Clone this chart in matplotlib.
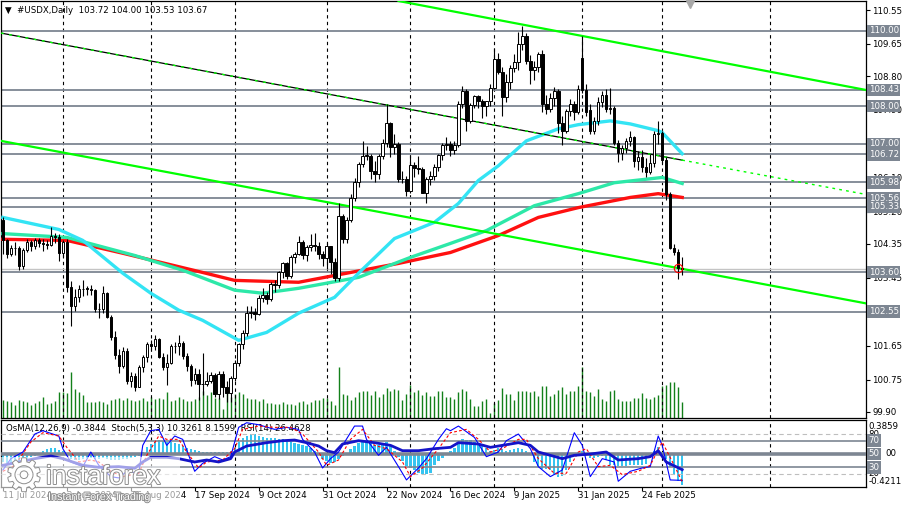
import matplotlib
matplotlib.use("Agg")
import matplotlib.pyplot as plt
import matplotlib.transforms as mtransforms
import matplotlib.patheffects as pe
from matplotlib.patches import Rectangle
import numpy as np

# ── Daily bars, 11 Jul 2024 → 10 Mar 2025 (bar index 0..170) ────────────────
opens = [
    104.98, 104.44, 104.09, 104.24, 104.23, 103.76, 104.19, 104.40, 104.29, 104.45,
    104.38, 104.35, 104.31, 104.57, 104.54, 104.10, 104.41, 103.21, 102.70, 102.93,
    103.14, 103.16, 103.15, 103.13, 102.61, 102.62, 103.04, 102.41, 101.88, 101.41,
    101.10, 101.50, 100.72, 100.85, 100.56, 101.09, 101.34, 101.70, 101.65, 101.82,
    101.36, 101.08, 101.18, 101.63, 101.64, 101.71, 101.37, 101.11, 100.74, 100.89,
    100.62, 100.64, 100.72, 100.87, 100.37, 100.90, 100.55, 100.38, 100.78, 101.20,
    101.68, 101.99, 102.52, 102.54, 102.49, 102.92, 102.99, 102.89, 103.29, 103.25,
    103.59, 103.83, 103.49, 104.01, 104.09, 104.41, 104.06, 104.26, 104.32, 104.30,
    104.07, 103.97, 104.28, 103.88, 103.43, 105.09, 104.49, 104.99, 105.57, 105.99,
    106.48, 106.68, 106.69, 106.27, 106.21, 106.68, 107.02, 107.55, 106.92, 107.01,
    106.06, 106.08, 105.74, 106.45, 106.36, 106.34, 105.71, 106.06, 106.16, 106.40,
    106.70, 106.97, 107.00, 106.84, 106.96, 108.07, 108.40, 107.62, 108.04, 108.26,
    108.13, 108.00, 108.13, 108.49, 109.25, 108.92, 108.25, 108.65, 109.00, 109.16,
    109.64, 109.86, 109.20, 108.95, 109.05, 109.38, 108.05, 107.92, 108.23, 108.40,
    107.55, 107.35, 107.86, 108.05, 107.85, 109.29, 108.42, 107.90, 107.35, 107.60,
    108.10, 108.30, 107.92, 107.95, 107.02, 106.77, 106.88, 107.08, 107.17, 106.55,
    106.64, 106.40, 106.25, 106.50, 107.25, 107.30, 106.58, 105.68, 104.25, 104.12,
    103.72,
]
highs = [
    105.05, 104.47, 104.33, 104.40, 104.30, 104.23, 104.47, 104.44, 104.51, 104.51,
    104.48, 104.45, 104.80, 104.63, 104.60, 104.46, 104.47, 103.37, 103.14, 103.26,
    103.39, 103.24, 103.26, 103.15, 102.77, 103.22, 103.06, 102.47, 102.04, 101.55,
    101.62, 101.58, 100.96, 100.93, 101.14, 101.40, 101.74, 101.80, 101.92, 101.86,
    101.45, 101.43, 101.69, 101.74, 101.92, 101.78, 101.45, 101.17, 101.05, 101.04,
    101.45, 100.95, 100.95, 100.92, 100.97, 100.98, 100.70, 100.85, 101.27, 101.72,
    102.06, 102.69, 102.70, 102.65, 102.98, 103.18, 103.08, 103.33, 103.40, 103.62,
    103.87, 103.87, 104.04, 104.13, 104.57, 104.46, 104.33, 104.62, 104.63, 104.40,
    104.17, 104.37, 104.30, 103.98, 105.44, 105.13, 105.06, 105.67, 106.10, 106.53,
    107.07, 106.94, 106.72, 106.54, 106.72, 107.13, 108.07, 107.59, 107.26, 107.06,
    106.29, 106.14, 106.70, 106.53, 106.68, 106.38, 106.12, 106.28, 106.47, 106.73,
    107.03, 107.18, 107.07, 107.08, 108.14, 108.54, 108.45, 108.09, 108.29, 108.30,
    108.19, 108.14, 108.58, 109.54, 109.40, 109.05, 108.85, 109.10, 109.38, 109.96,
    110.13, 109.95, 109.35, 109.20, 109.45, 109.50, 108.30, 108.35, 108.52, 108.45,
    107.75, 107.93, 108.20, 108.15, 108.55, 109.86, 108.60, 108.05, 107.72, 108.25,
    108.41, 108.45, 108.47, 108.00, 107.10, 106.98, 107.15, 107.35, 107.22, 106.80,
    106.85, 106.62, 106.72, 107.35, 107.61, 107.35, 106.65, 105.72, 104.35, 104.20,
    104.00,
]
lows = [
    104.07, 103.97, 104.02, 104.06, 103.65, 103.69, 104.12, 104.17, 104.22, 104.26,
    104.15, 104.20, 104.29, 104.38, 103.89, 103.99, 103.08, 102.16, 102.58, 102.81,
    102.97, 102.99, 102.98, 102.55, 102.38, 102.51, 102.38, 101.81, 101.30, 100.92,
    101.05, 100.62, 100.55, 100.45, 100.54, 100.94, 101.21, 101.54, 101.53, 101.31,
    100.99, 100.60, 101.16, 101.45, 101.40, 101.30, 100.98, 100.59, 100.63, 100.21,
    100.35, 100.58, 100.65, 100.30, 100.24, 100.30, 100.16, 100.16, 100.70, 101.12,
    101.55, 101.90, 102.38, 102.34, 102.45, 102.80, 102.75, 102.84, 103.07, 103.17,
    103.45, 103.41, 103.44, 103.84, 104.06, 103.96, 103.89, 104.15, 104.17, 103.95,
    103.77, 103.68, 103.55, 103.37, 103.37, 104.37, 104.38, 104.94, 105.48, 105.85,
    106.38, 106.58, 106.07, 105.98, 106.08, 106.59, 106.92, 106.66, 106.74, 105.98,
    105.96, 105.61, 105.70, 106.13, 106.19, 105.70, 105.42, 105.92, 106.04, 106.28,
    106.56, 106.84, 106.67, 106.72, 106.93, 107.95, 107.35, 107.55, 107.96, 107.96,
    107.69, 107.73, 108.00, 108.45, 108.85, 107.75, 108.10, 108.45, 108.90, 108.95,
    109.50, 109.12, 108.60, 108.70, 108.90, 107.85, 107.80, 107.85, 108.00, 107.30,
    106.97, 107.30, 107.75, 107.63, 107.78, 108.35, 107.75, 107.26, 107.25, 107.50,
    107.98, 107.85, 107.80, 106.98, 106.51, 106.56, 106.75, 106.95, 106.38, 106.30,
    106.25, 106.12, 106.20, 106.40, 107.00, 106.50, 105.50, 104.20, 104.05, 103.41,
    103.53,
]
closes = [
    104.44, 104.09, 104.24, 104.23, 103.76, 104.19, 104.40, 104.29, 104.45, 104.38,
    104.35, 104.31, 104.57, 104.54, 104.10, 104.41, 103.21, 102.70, 102.93, 103.14,
    103.16, 103.15, 103.13, 102.61, 102.62, 103.04, 102.41, 101.88, 101.41, 101.10,
    101.50, 100.72, 100.85, 100.56, 101.09, 101.34, 101.70, 101.65, 101.82, 101.36,
    101.08, 101.18, 101.63, 101.64, 101.71, 101.37, 101.11, 100.74, 100.89, 100.62,
    100.64, 100.72, 100.87, 100.37, 100.90, 100.55, 100.38, 100.78, 101.20, 101.68,
    101.99, 102.52, 102.54, 102.49, 102.92, 102.99, 102.89, 103.29, 103.25, 103.59,
    103.83, 103.49, 104.01, 104.09, 104.41, 104.06, 104.26, 104.32, 104.30, 104.07,
    103.97, 104.28, 103.88, 103.43, 105.09, 104.49, 104.99, 105.57, 105.99, 106.48,
    106.68, 106.69, 106.27, 106.21, 106.68, 107.02, 107.55, 106.92, 107.01, 106.06,
    106.08, 105.74, 106.45, 106.36, 106.34, 105.71, 106.06, 106.16, 106.40, 106.70,
    106.97, 107.00, 106.84, 106.96, 108.07, 108.40, 107.62, 108.04, 108.26, 108.13,
    108.00, 108.13, 108.49, 109.25, 108.92, 108.25, 108.65, 109.00, 109.16, 109.64,
    109.86, 109.20, 108.95, 109.05, 109.38, 108.05, 107.92, 108.23, 108.40, 107.55,
    107.35, 107.86, 108.05, 107.85, 108.45, 108.42, 107.85, 107.35, 107.60, 108.10,
    108.30, 107.92, 107.95, 107.02, 106.77, 106.88, 107.08, 107.17, 106.55, 106.64,
    106.40, 106.25, 106.50, 107.25, 107.30, 106.58, 105.68, 104.25, 104.12, 103.72,
    103.67,
]
volumes = [
    18, 17, 16, 13, 18, 17, 16, 13, 15, 17, 21, 14, 15, 17, 26, 26, 25, 46, 29, 26,
    23, 16, 16, 16, 17, 16, 14, 18, 19, 20, 18, 20, 18, 17, 18, 20, 17, 21, 19, 20,
    19, 26, 17, 18, 21, 19, 17, 17, 19, 21, 27, 23, 26, 20, 20, 9, 27, 21, 24, 26,
    24, 20, 19, 19, 17, 19, 15, 15, 14, 14, 16, 14, 14, 13, 16,
    17, 14, 16, 18, 18, 20, 20, 17, 13, 51, 24, 23, 18, 21, 26, 27, 27, 23, 27, 21,
    24, 30, 27, 29, 28, 18, 24, 33, 26, 28, 23, 26, 22, 22, 27, 27, 21, 21, 19, 26,
    29, 27, 19, 12, 12, 17, 19, 5, 15, 18, 30, 24, 24, 18, 27, 27, 27, 26, 27, 22,
    32, 32, 22, 24, 28, 31, 24, 27, 27, 32, 51, 27, 26, 22, 29,
    19, 17, 27, 28, 19, 17, 17, 17, 20, 20, 25, 20, 19, 21, 23, 32, 33, 36, 36, 31, 16,
]

# moving averages, read at sample bars
ma_fast_i = [0, 14, 20, 30, 37, 44, 50, 59, 66, 74, 83, 89, 98, 108, 114, 119, 124,
             131, 139, 144, 152, 157, 164, 165, 170]
ma_fast_v = [105.05, 104.73, 104.44, 103.57, 103.04, 102.59, 102.32, 101.79, 102.00,
             102.51, 102.93, 103.57, 104.49, 104.92, 105.42, 106.03, 106.42, 107.08,
             107.40, 107.51, 107.61, 107.53, 107.35, 107.30, 106.74]
ma_mid_i = [0, 16, 33, 45, 58, 65, 74, 89, 102, 112, 121, 133, 144, 153, 165, 170]
ma_mid_v = [104.62, 104.52, 104.04, 103.65, 103.12, 103.04, 103.17, 103.46, 103.99,
            104.36, 104.70, 105.36, 105.68, 105.97, 106.11, 105.95]
ma_slow_i = [0, 16, 30, 50, 58, 74, 99, 112, 124, 134, 144, 157, 164, 170]
ma_slow_v = [104.47, 104.44, 104.10, 103.59, 103.38, 103.33, 103.83, 104.12, 104.57,
             105.05, 105.31, 105.58, 105.68, 105.58]

# drawn objects: trend lines (bar, price) pairs and horizontal levels
chan_top = [(101.5, 110.74), (216, 108.43)]
chan_mid = [(-0.5, 109.94), (216, 105.66)]
chan_low = [(-0.5, 107.08), (216, 102.77)]
mid_solid_end = 170
levels = [110.00, 108.43, 108.00, 107.00, 106.72, 105.98, 105.56, 105.33, 103.60, 102.55]
price_ticks = [99.90, 100.75, 101.65, 102.55, 103.45, 104.35, 105.20, 106.10, 107.00,
               107.90, 108.80, 109.65, 110.55]

# indicator window
osma = [
    -0.10, -0.11, -0.11, -0.10, -0.10, -0.08, -0.06, -0.04, -0.02, 0.01,
    0.04, 0.06, 0.07, 0.07, 0.05, 0.03, -0.02, -0.06, -0.07, -0.07,
    -0.06, -0.05, -0.05, -0.06, -0.06, -0.05, -0.06, -0.07, -0.07, -0.07,
    -0.06, -0.06, -0.05, -0.04, -0.02, 0.02, 0.08, 0.12, 0.15, 0.17,
    0.16, 0.14, 0.14, 0.13, 0.12, 0.10, 0.07, 0.06, 0.05, 0.03,
    0.02, 0.02, 0.02, 0.02, 0.02, 0.02, 0.02, 0.03, 0.07, 0.14,
    0.20, 0.22, 0.24, 0.24, 0.22, 0.21, 0.20, 0.20, 0.19, 0.18,
    0.18, 0.16, 0.15, 0.13, 0.12, 0.11, 0.10, 0.07, 0.04, 0.00,
    -0.06, -0.09, -0.11, -0.10, -0.06, -0.03, 0.01, 0.06, 0.10, 0.13,
    0.15, 0.15, 0.13, 0.11, 0.11, 0.12, 0.14, 0.10, 0.04, -0.04,
    -0.09, -0.15, -0.17, -0.20, -0.23, -0.25, -0.25, -0.23, -0.14, -0.09,
    -0.05, -0.01, 0.03, 0.07, 0.14, 0.18, 0.17, 0.17, 0.15, 0.13,
    0.11, 0.07, 0.04, 0.05, 0.07, 0.06, 0.04, 0.05, 0.06, 0.07,
    0.06, 0.04, 0.00, -0.10, -0.15, -0.18, -0.18, -0.20, -0.25, -0.28,
    -0.27, -0.20, -0.10, -0.03, 0.02, 0.03, -0.02, -0.05, -0.05, -0.04,
    -0.03, -0.08, -0.13, -0.14, -0.15, -0.15, -0.15, -0.14, -0.14, -0.14,
    -0.13, -0.12, -0.05, 0.04, 0.08, 0.02, -0.06, -0.16, -0.26, -0.33,
    -0.38,
]
stoch_i = [0, 2, 5, 8, 10, 14, 15, 17, 20, 22, 24, 27, 29, 31, 34, 35, 37, 39, 41, 43,
           45, 48, 50, 53, 55, 57, 59, 61, 64, 68, 71, 74, 75, 78, 80, 82, 84, 88, 90,
           91, 94, 96, 99, 101, 104, 106, 109, 111, 112, 114, 118, 121, 124, 126, 129,
           132, 134, 137, 140, 143, 145, 147, 150, 153, 154, 157, 160, 162, 164, 165,
           167, 170]
stoch_v = [26, 43, 53, 80, 85, 77, 58, 38, 31, 53, 33, 16, 14, 24, 21, 63, 85, 87, 63, 77,
           72, 24, 36, 46, 41, 46, 90, 97, 94, 87, 90, 87, 72, 53, 29, 43, 53, 92, 92,
           72, 48, 60, 31, 11, 29, 43, 72, 88, 85, 92, 75, 46, 53, 70, 80,
           58, 31, 16, 26, 82, 63, 16, 43, 38, 9, 24, 29, 31, 77, 63,
           11, 10.33]
signal_i = [0, 3, 7, 10, 14, 16, 19, 22, 24, 27, 30, 34, 36, 39, 41, 44, 46, 49, 51, 55,
            58, 60, 64, 68, 72, 75, 79, 81, 84, 87, 90, 93, 96, 100, 102, 105, 109, 112,
            116, 119, 122, 125, 129, 131, 134, 138, 141, 144, 146, 149, 152, 155, 159,
            162, 165, 168, 170]
signal_v = [24, 33, 68, 82, 77, 60, 38, 41, 38, 24, 16, 21, 48, 77, 72, 72, 53, 29, 38, 41,
            58, 87, 92, 90, 90, 80, 53, 33, 41, 72, 87, 63, 58, 38, 16, 29, 58, 82,
            87, 72, 53, 58, 72, 72, 43, 21, 21, 53, 58, 31, 33, 19, 24,
            33, 68, 33, 8.16]
rsi_i = [0, 4, 8, 12, 15, 20, 24, 29, 33, 35, 37, 41, 44, 48, 51, 54, 57, 58, 61, 66,
         70, 73, 76, 79, 81, 83, 85, 89, 93, 97, 100, 104, 108, 112, 114, 119, 122,
         125, 129, 132, 134, 137, 140, 143, 147, 151, 154, 159, 162, 164, 166, 170]
rsi_v = [33, 38, 43, 47, 43, 33, 30, 31, 28.5, 38, 45, 45, 43, 38, 41, 38, 43, 53, 62, 67,
         70, 71, 67, 62, 55, 52, 65, 70, 67, 63, 55, 55, 58, 60, 67, 65, 60,
         63, 67, 63, 53, 48, 43, 48, 50, 53, 41, 43, 46, 55, 38, 26.46]

# month separators and date labels
separators = [15, 37, 58, 81, 102, 123, 145, 165, 192]
date_idx = [0, 16, 32, 48, 64, 80, 96, 112, 128, 144, 160]
date_txt = ["11 Jul 2024", "2 Aug 2024", "26 Aug 2024", "17 Sep 2024", "9 Oct 2024",
            "31 Oct 2024", "22 Nov 2024", "16 Dec 2024", "9 Jan 2025", "31 Jan 2025",
            "24 Feb 2025"]

# ── Theme ────────────────────────────────────────────────────────────────────
LIME, CYAN, TEAL, RED = "#00FF00", "#33E4F4", "#2DE8A8", "#FF1010"
LEVEL = "#7D8692"
VOLC = "#13801A"
HIST = "#35C4F0"
FS = 6.2
plt.rcParams.update({"font.family": "DejaVu Sans", "font.size": FS})

W, H = 903, 507
fig = plt.figure(figsize=(W / 100, H / 100), dpi=100, facecolor="white")
main_rect = [0.001, 89 / H, 866 / W - 0.001, 417 / H]
ind_rect = [0.001, 20 / H, 866 / W - 0.001, 67 / H]

idx = np.arange(len(closes))
o, hi, lo, c = (np.array(a) for a in (opens, highs, lows, closes))
XL = (-0.5, 216)

# ── Volume layer (behind prices) ─────────────────────────────────────────────
axv = fig.add_axes(main_rect, zorder=0)
axv.vlines(idx, 0, volumes, color=VOLC, lw=1.0)
axv.set_xlim(*XL); axv.set_ylim(0, 417)
axv.axis("off")

# ── Price window ─────────────────────────────────────────────────────────────
ax = fig.add_axes(main_rect, zorder=1)
ax.patch.set_alpha(0)
ax.set_xlim(*XL)
ax.set_ylim(99.73, 110.79)

for s in separators:
    ax.axvline(s, color="black", lw=0.8, ls=(0, (3, 3)), zorder=1)
for lv in levels:
    ax.axhline(lv, color=LEVEL, lw=1.3, zorder=2)
ax.axhline(closes[-1], color="#C4C4C4", lw=1.0, zorder=2)

ax.plot(ma_slow_i, ma_slow_v, color=RED, lw=2.4, zorder=3)
ax.plot(ma_mid_i, ma_mid_v, color=TEAL, lw=2.4, zorder=3)
ax.plot(ma_fast_i, ma_fast_v, color=CYAN, lw=2.4, zorder=3)

ax.axline(*chan_top, color=LIME, lw=1.6, zorder=3)
ax.axline(*chan_low, color=LIME, lw=1.6, zorder=3)
(x0, y0), (x1, y1) = chan_mid
ym = y0 + (y1 - y0) * (mid_solid_end - x0) / (x1 - x0)
ax.plot([x0, mid_solid_end], [y0, ym], color="black", lw=0.9, zorder=3)
ax.plot([x0, mid_solid_end], [y0, ym], color=LIME, lw=1.0, ls=(0, (2, 4)), zorder=3)
ax.plot([mid_solid_end, x1], [ym, y1], color=LIME, lw=1.0, ls=(0, (2, 3)), zorder=3)

# candles
up = c >= o
ax.vlines(idx, lo, hi, color="black", lw=0.8, zorder=4)
bot = np.minimum(o, c)
hgt = np.maximum(np.abs(c - o), 0.015)
ax.bar(idx[up], hgt[up], bottom=bot[up], width=0.6, facecolor="white",
       edgecolor="black", lw=0.7, zorder=5)
ax.bar(idx[~up], hgt[~up], bottom=bot[~up], width=0.6, facecolor="black",
       edgecolor="black", lw=0.7, zorder=5)

ax.plot(idx[-2], closes[-2], marker="o", ms=6, mfc="none", mec="red", mew=0.8, zorder=6)
ax.plot(690 / 866, 0.992, marker="v", ms=6, color="#A8A8A8", transform=ax.transAxes,
        clip_on=False, zorder=6)

# price scale: labels hidden under a level box are left blank
ax.set_xticks([])
ax.yaxis.tick_right()
ax.set_yticks(price_ticks)
ax.set_yticklabels(["" if any(abs(t - lv) < 0.05 for lv in levels) else f"{t:.2f}"
                    for t in price_ticks])
ax.tick_params(axis="y", length=3, width=0.8, pad=1.5, labelsize=FS, colors="black")
for sp in ax.spines.values():
    sp.set_color("black"); sp.set_linewidth(0.9)

ytr = mtransforms.blended_transform_factory(ax.transAxes, ax.transData)
for lv in levels:
    ax.text(1.003, lv, f"{lv:.2f}", transform=ytr, ha="left", va="center",
            color="white", fontsize=FS, clip_on=False, zorder=10,
            bbox=dict(boxstyle="square,pad=0.2", fc=LEVEL, ec="none"))

ax.text(0.005, 0.978, "▼  #USDX,Daily  103.72 104.00 103.53 103.67",
        transform=ax.transAxes, ha="left", va="center", fontsize=FS, color="black")

# ── Indicator window ─────────────────────────────────────────────────────────
axi = fig.add_axes(ind_rect, zorder=1)
axi.set_xlim(*XL)
axi.set_ylim(-0.405, 0.415)
for s in separators:
    axi.axvline(s, color="black", lw=0.8, ls=(0, (3, 3)), zorder=1)
axi.bar(idx, osma, width=0.55, color=HIST, zorder=2)
axi.set_yticks([])
axi.set_xticks(date_idx)
axi.set_xticklabels([])
axi.tick_params(axis="x", length=3, width=0.8, direction="out")
for sp in axi.spines.values():
    sp.set_color("black"); sp.set_linewidth(0.9)

axs = fig.add_axes(ind_rect, zorder=2)
axs.set_xlim(*XL)
axs.set_ylim(0.4, 101.1)
axs.set_axis_off()
for lv in (80, 20):
    axs.axhline(lv, color="#BEBEBE", lw=0.8, ls=(0, (4, 3)))
for lv in (70, 30):
    axs.axhline(lv, color=LEVEL, lw=1.2)
axs.axhline(50, color=LEVEL, lw=2.6)
axs.plot(stoch_i, stoch_v, color="#0000FF", lw=0.8)
axs.plot(signal_i, signal_v, color="#FF0000", lw=0.8, ls=(0, (2.5, 2)))
axs.plot(rsi_i, rsi_v, color="#1414C8", lw=2.0)

axs.text(0.006, 0.87, "OsMA(12,26,9) -0.3844  Stoch(5,3,3) 10.3261 8.1599  RSI(14) 26.4628",
         transform=axs.transAxes, ha="left", va="center", fontsize=FS, zorder=0)

str_ = mtransforms.blended_transform_factory(axs.transAxes, axs.transData)
axs.text(1.003, 0.91, "0.3859", transform=axs.transAxes, ha="left", va="center",
         fontsize=FS, clip_on=False)
axs.text(1.003, 0.08, "-0.4211", transform=axs.transAxes, ha="left", va="center",
         fontsize=FS, clip_on=False)
for lv in (80, 20):
    axs.text(1.003, lv, str(lv), transform=str_, ha="left", va="center",
             fontsize=FS, clip_on=False)
axs.text(1.022, 50, "00", transform=str_, ha="left", va="center", fontsize=FS,
         clip_on=False)
for lv in (70, 50, 30):
    axs.text(1.003, lv, str(lv), transform=str_, ha="left", va="center", color="white",
             fontsize=FS, clip_on=False, zorder=10,
             bbox=dict(boxstyle="square,pad=0.2", fc=LEVEL, ec="none"))

dtr = mtransforms.blended_transform_factory(axi.transData, axi.transAxes)
for i, t in zip(date_idx, date_txt):
    axi.text(i, -0.13, t, transform=dtr, ha="left", va="center", fontsize=FS,
             clip_on=False)

# ── Watermark ────────────────────────────────────────────────────────────────
fig.patches.append(Rectangle((0, 0), 180 / W, 50 / H, transform=fig.transFigure,
                             fc="white", ec="none", alpha=0.6, zorder=20))
stroke = [pe.withStroke(linewidth=1.4, foreground="#8E8E8E")]
fig.text(24 / W, 1 - 478 / H, "⚙", fontsize=32, color="white", ha="center",
         va="center", path_effects=stroke, zorder=21)
fig.text(46 / W, 1 - 477 / H, "instaforex", fontsize=19, color="white", ha="left",
         va="center", family="Liberation Sans", path_effects=stroke, zorder=21)
fig.text(48 / W, 1 - 497 / H, "Instant Forex Trading", fontsize=7.8, color="white",
         ha="left", va="center", family="Liberation Sans", path_effects=stroke, zorder=21)

fig.savefig("out.png", dpi=100, facecolor="white")
